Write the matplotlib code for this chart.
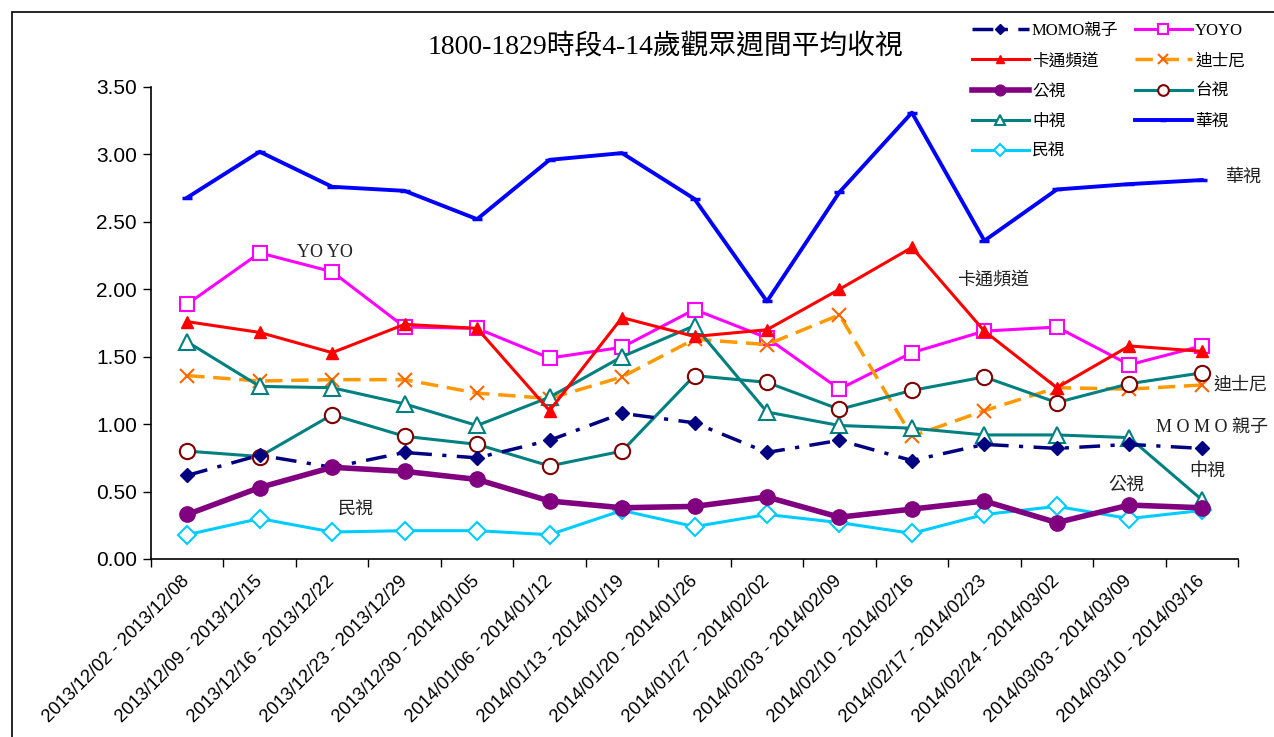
import matplotlib
matplotlib.use("Agg")
import matplotlib.pyplot as plt
from matplotlib.patches import Rectangle

categories = [
    "2013/12/02 - 2013/12/08", "2013/12/09 - 2013/12/15", "2013/12/16 - 2013/12/22",
    "2013/12/23 - 2013/12/29", "2013/12/30 - 2014/01/05", "2014/01/06 - 2014/01/12",
    "2014/01/13 - 2014/01/19", "2014/01/20 - 2014/01/26", "2014/01/27 - 2014/02/02",
    "2014/02/03 - 2014/02/09", "2014/02/10 - 2014/02/16", "2014/02/17 - 2014/02/23",
    "2014/02/24 - 2014/03/02", "2014/03/03 - 2014/03/09", "2014/03/10 - 2014/03/16",
]

momo = [0.62, 0.77, 0.68, 0.79, 0.75, 0.88, 1.08, 1.01, 0.79, 0.88, 0.73, 0.85, 0.82, 0.85, 0.82]
yoyo = [1.89, 2.27, 2.13, 1.72, 1.71, 1.49, 1.57, 1.85, 1.64, 1.26, 1.53, 1.69, 1.72, 1.44, 1.58]
cartoon = [1.76, 1.68, 1.53, 1.74, 1.71, 1.10, 1.79, 1.65, 1.70, 2.00, 2.31, 1.69, 1.27, 1.58, 1.54]
disney = [1.36, 1.32, 1.33, 1.33, 1.23, 1.19, 1.35, 1.63, 1.59, 1.81, 0.91, 1.10, 1.27, 1.26, 1.29]
pts = [0.33, 0.53, 0.68, 0.65, 0.59, 0.43, 0.38, 0.39, 0.46, 0.31, 0.37, 0.43, 0.27, 0.40, 0.38]
ttv = [0.80, 0.76, 1.07, 0.91, 0.85, 0.69, 0.80, 1.36, 1.31, 1.11, 1.25, 1.35, 1.16, 1.30, 1.38]
ctv = [1.61, 1.28, 1.27, 1.15, 0.99, 1.20, 1.50, 1.73, 1.09, 0.99, 0.97, 0.92, 0.92, 0.90, 0.44]
cts = [2.68, 3.02, 2.76, 2.73, 2.52, 2.96, 3.01, 2.67, 1.91, 2.72, 3.31, 2.36, 2.74, 2.78, 2.81]
ftv = [0.18, 0.30, 0.20, 0.21, 0.21, 0.18, 0.36, 0.24, 0.33, 0.27, 0.19, 0.33, 0.39, 0.30, 0.36]

title = "1800-1829時段4-14歲觀眾週間平均收視"
yticks = [0.0, 0.5, 1.0, 1.5, 2.0, 2.5, 3.0, 3.5]

CJK = ['Liberation Serif', 'Noto Sans CJK TC', 'DejaVu Sans']
plt.rcParams['font.family'] = ['Liberation Sans', 'Noto Sans CJK TC', 'DejaVu Sans']

fig = plt.figure(figsize=(12.74, 7.37), dpi=100)
ax = fig.add_axes([151/1274, 1-559/737, (1238-151)/1274, (559-87)/737])

x = list(range(len(categories)))

ax.plot(x, cts, color='#0000FF', lw=2.8, marker='_', ms=7, mew=2.5, label='華視', zorder=3)
ax.plot(x, yoyo, color='#FF00FF', lw=2.2, marker='s', ms=10, mfc='white', mec='#FF00FF', mew=1.5, label='YOYO', zorder=4)
ax.plot(x, cartoon, color='#FF0000', lw=2.2, marker='^', ms=8, mfc='#FF0000', mec='#FF0000', label='卡通頻道', zorder=5)
ax.plot(x, disney, color='#FF9900', lw=2.5, dashes=(5, 2.5), marker='x', ms=10, mec='#FF6600', mew=1.5, label='迪士尼', zorder=4)
ax.plot(x, ctv, color='#008080', lw=2.2, marker='^', ms=11, mfc='white', mec='#008080', mew=1.5, label='中視', zorder=4)
ax.plot(x, ttv, color='#008080', lw=2.2, marker='o', ms=11, mfc='white', mec='#800000', mew=1.5, label='台視', zorder=4)
ax.plot(x, momo, color='#000080', lw=2.5, dashes=(6, 3, 1.2, 3), marker='D', ms=7, mfc='#000080', mec='#000080', label='MOMO親子', zorder=5)
ax.plot(x, pts, color='#800080', lw=4, marker='o', ms=11, mfc='#800080', mec='#800080', label='公視', zorder=5)
ax.plot(x, ftv, color='#00CCFF', lw=2.2, marker='D', ms=9, mfc='white', mec='#00CCFF', mew=1.5, label='民視', zorder=4)

ax.set_xlim(-0.5, len(categories) - 0.5)
ax.set_ylim(0, 3.5)
ax.set_yticks(yticks)
ax.set_yticklabels([f"{v:.2f}" for v in yticks], fontsize=15)
ax.set_xticks(x)
ax.set_xticklabels(categories, rotation=45, ha='right', va='center', rotation_mode='anchor', fontsize=13.2)
ax.set_xticks([i - 0.5 for i in range(len(categories) + 1)], minor=True)
ax.tick_params(axis='x', which='major', length=0, pad=14)
ax.tick_params(axis='x', which='minor', length=6, direction='out', width=1)
ax.tick_params(axis='y', length=6, direction='out', width=1, pad=4)
for s in ['top', 'right']:
    ax.spines[s].set_visible(False)
for s in ['left', 'bottom']:
    ax.spines[s].set_linewidth(1.2)

fig.text(665/1274, 1-47/737, title, ha='center', va='center', fontsize=20, family=CJK)

# legend (row-major order in 2 columns)
handles, labels = ax.get_legend_handles_labels()
order = ['MOMO親子', 'YOYO', '卡通頻道', '迪士尼', '公視', '台視', '中視', '華視', '民視']
hmap = dict(zip(labels, handles))
rows = [order[i:i+2] for i in range(0, len(order), 2)]
col1 = [r[0] for r in rows]
col2 = [r[1] for r in rows if len(r) > 1]
ordered = col1 + col2
leg = fig.legend([hmap[k] for k in ordered], ordered,
                 ncol=2, loc='upper left', bbox_to_anchor=(957/1274, 1-8/737),
                 frameon=False, prop={'family': CJK, 'size': 12},
                 handlelength=3.4, handletextpad=0.2, columnspacing=1.0,
                 labelspacing=0.85, markerscale=0.7)

ann = dict(fontsize=13, family=CJK, color='#222222')
ax.text(1.9, 2.27, 'YO YO', ha='center', va='center', **ann)
ax.text(11.12, 2.07, '卡通頻道', ha='center', va='center', **ann)
ax.text(14.91, 1.29, '迪士尼', ha='right', va='center', clip_on=False, **ann)
ax.text(14.91, 0.97, 'M O M O 親子', ha='right', va='center', clip_on=False, **ann)
ax.text(14.08, 0.65, '中視', ha='center', va='center', **ann)
ax.text(12.96, 0.55, '公視', ha='center', va='center', **ann)
ax.text(2.33, 0.36, '民視', ha='center', va='center', **ann)
ax.text(14.32, 2.83, '華視', ha='left', va='center', clip_on=False, **ann)

fig.patches.append(Rectangle((12/1274, -0.1), 1.5, 1 - 12/737 + 0.1, transform=fig.transFigure,
                             fill=False, edgecolor='black', lw=1.2))

fig.savefig('out.png', dpi=100)
